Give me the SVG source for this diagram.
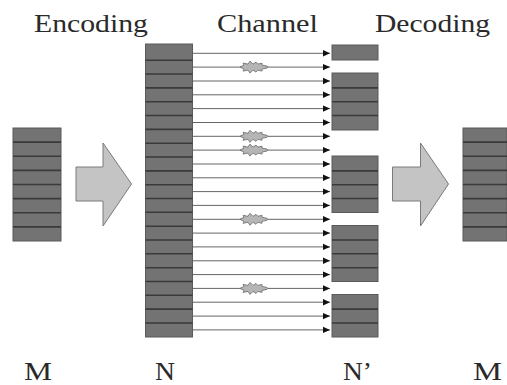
<svg xmlns="http://www.w3.org/2000/svg" xmlns:xlink="http://www.w3.org/1999/xlink" width="507" height="385" viewBox="0 0 507 385">
<style>
.lbl{font-family:"Liberation Serif","Times New Roman",serif;fill:#2a2a2a}
.blk{fill:#737373;stroke:#5a5a5a;stroke-width:1}
.div{stroke:#3a3a3a;stroke-width:1.6}
.ch{stroke:#666;stroke-width:1;fill:none}
.big{fill:#c4c4c4;stroke:#7a7a7a;stroke-width:1}
.noise{fill:#b5b5b5;stroke:#6a6a6a;stroke-width:0.8}
</style>
<defs>
<marker id="ah" markerUnits="userSpaceOnUse" markerWidth="8" markerHeight="8" refX="7" refY="4" orient="auto">
<path d="M0,0.8 L7,4 L0,7.2 Z" fill="#111"/>
</marker>
<polygon id="nz" class="noise" points="-14,0 -10,-2 -11,-4 -6,-3 -4,-6 -1,-3 2,-5 4,-3 8,-4 8,-2 13,-1 14,0 13,1 8,2 8,4 4,3 2,5 -1,3 -4,6 -6,3 -11,4 -10,2"/>
</defs>
<rect width="507" height="385" fill="#fff"/>
<g id="labels">
<text class="lbl" x="34" y="31.5" font-size="25" textLength="114" lengthAdjust="spacingAndGlyphs">Encoding</text>
<text class="lbl" x="217" y="31.5" font-size="25" textLength="101" lengthAdjust="spacingAndGlyphs">Channel</text>
<text class="lbl" x="375" y="31.5" font-size="25" textLength="115" lengthAdjust="spacingAndGlyphs">Decoding</text>
<text class="lbl" x="24" y="380" font-size="26" textLength="28" lengthAdjust="spacingAndGlyphs">M</text>
<text class="lbl" x="155" y="380" font-size="26" textLength="20" lengthAdjust="spacingAndGlyphs">N</text>
<text class="lbl" x="343" y="380" font-size="26" textLength="29" lengthAdjust="spacingAndGlyphs">N’</text>
<text class="lbl" x="473" y="380" font-size="26" textLength="29" lengthAdjust="spacingAndGlyphs">M</text>
</g>
<g id="M-left">
<rect class="blk" x="13" y="128" width="48" height="113"/>
<path class="div" d="M13,142.1H61M13,156.2H61M13,170.4H61M13,184.5H61M13,198.6H61M13,212.8H61M13,226.9H61"/>
</g>
<g id="encode-arrow">
<polygon class="big" points="76,167 103,167 103,143 131.5,184 103,226 103,201 76,201"/>
</g>
<g id="N">
<rect class="blk" x="145.5" y="44" width="47" height="293"/>
<path class="div" d="M145.5,60.2H192.5M145.5,74H192.5M145.5,87.9H192.5M145.5,101.7H192.5M145.5,115.5H192.5M145.5,129.4H192.5M145.5,143.2H192.5M145.5,157H192.5M145.5,170.9H192.5M145.5,184.7H192.5M145.5,198.5H192.5M145.5,212.3H192.5M145.5,226.2H192.5M145.5,240H192.5M145.5,253.8H192.5M145.5,267.7H192.5M145.5,281.5H192.5M145.5,295.3H192.5M145.5,309.1H192.5M145.5,323H192.5"/>
</g>
<g id="connectors" class="ch" marker-end="url(#ah)">
<line x1="193" y1="53.3" x2="330" y2="53.3"/>
<line x1="193" y1="67.1" x2="330" y2="67.1"/>
<line x1="193" y1="81" x2="330" y2="81"/>
<line x1="193" y1="94.8" x2="330" y2="94.8"/>
<line x1="193" y1="108.6" x2="330" y2="108.6"/>
<line x1="193" y1="122.5" x2="330" y2="122.5"/>
<line x1="193" y1="136.3" x2="330" y2="136.3"/>
<line x1="193" y1="150.1" x2="330" y2="150.1"/>
<line x1="193" y1="164" x2="330" y2="164"/>
<line x1="193" y1="177.8" x2="330" y2="177.8"/>
<line x1="193" y1="191.6" x2="330" y2="191.6"/>
<line x1="193" y1="205.4" x2="330" y2="205.4"/>
<line x1="193" y1="219.3" x2="330" y2="219.3"/>
<line x1="193" y1="233.1" x2="330" y2="233.1"/>
<line x1="193" y1="246.9" x2="330" y2="246.9"/>
<line x1="193" y1="260.8" x2="330" y2="260.8"/>
<line x1="193" y1="274.6" x2="330" y2="274.6"/>
<line x1="193" y1="288.4" x2="330" y2="288.4"/>
<line x1="193" y1="302.2" x2="330" y2="302.2"/>
<line x1="193" y1="316.1" x2="330" y2="316.1"/>
<line x1="193" y1="329.9" x2="330" y2="329.9"/>
</g>
<g id="noise">
<use xlink:href="#nz" x="254" y="67.1"/>
<use xlink:href="#nz" x="254" y="136.3"/>
<use xlink:href="#nz" x="254" y="150.1"/>
<use xlink:href="#nz" x="254" y="219.3"/>
<use xlink:href="#nz" x="254" y="288.4"/>
</g>
<g id="N-prime">
<rect class="blk" x="332" y="45" width="46" height="15"/>
<rect class="blk" x="332" y="73" width="46" height="57"/>
<path class="div" d="M332,87.9H378M332,101.7H378M332,115.5H378"/>
<rect class="blk" x="332" y="156" width="46" height="56.5"/>
<path class="div" d="M332,170.9H378M332,184.7H378M332,198.5H378"/>
<rect class="blk" x="332" y="225.5" width="46" height="56"/>
<path class="div" d="M332,240H378M332,253.8H378M332,267.7H378"/>
<rect class="blk" x="332" y="294.5" width="46" height="42.5"/>
<path class="div" d="M332,309.1H378M332,323H378"/>
</g>
<g id="decode-arrow">
<polygon class="big" points="392.5,167 420.5,167 420.5,143 448.5,184 420.5,226 420.5,201 392.5,201"/>
</g>
<g id="M-right">
<rect class="blk" x="463" y="128" width="44" height="113"/>
<path class="div" d="M463,142.1H507M463,156.2H507M463,170.4H507M463,184.5H507M463,198.6H507M463,212.8H507M463,226.9H507"/>
</g>
</svg>
